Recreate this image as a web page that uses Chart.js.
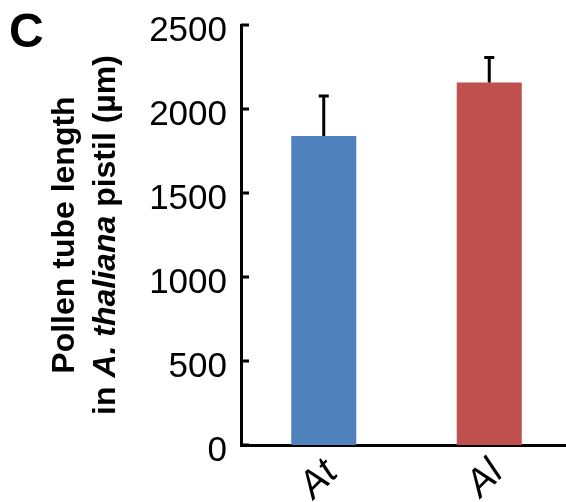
<!DOCTYPE html>
<html>
<head>
<meta charset="utf-8">
<script src="https://cdn.jsdelivr.net/npm/chart.js@4.4.0/dist/chart.umd.min.js"></script>
<style>
    html, body { margin: 0; padding: 0; overflow: hidden; background: #fff; }
    #wrap { position: relative; width: 566px; height: 502px; overflow: hidden; }
    canvas { position: absolute; left: 0; top: 0; }
</style>
</head>
<body>
<div id="wrap"><canvas id="chart" width="572" height="502"></canvas></div>
<script>
const species = ['At', 'Al'];
const tubeLength = [1840, 2157];
const tubeError = [237, 150];
const barColors = ['#4F81BD', '#C0504D'];
const yMax = 2500;
const yStep = 500;

const FONT = "'Liberation Sans', Arial, sans-serif";

// error bars (upper only) + inward tick marks on the y axis
const errorBars = {
    id: 'errorBars',
    afterDatasetsDraw(chart) {
        const ctx = chart.ctx;
        const x = chart.scales.x;
        const y = chart.scales.y;
        const meta = chart.getDatasetMeta(0);
        ctx.save();
        ctx.strokeStyle = '#000';
        ctx.lineWidth = 3;
        ctx.beginPath();
        meta.data.forEach((bar, i) => {
            const top = y.getPixelForValue(tubeLength[i] + tubeError[i]);
            ctx.moveTo(bar.x, bar.y);
            ctx.lineTo(bar.x, top);
            ctx.moveTo(bar.x - 5, top);
            ctx.lineTo(bar.x + 5, top);
        });
        y.ticks.forEach(t => {
            const py = y.getPixelForValue(t.value);
            ctx.moveTo(x.left, py);
            ctx.lineTo(x.left + 8, py);
        });
        ctx.stroke();
        ctx.restore();
    }
};

// panel letter and the two-line y title (with italic species name)
const labels = {
    id: 'labels',
    afterDraw(chart) {
        const ctx = chart.ctx;
        const y = chart.scales.y;
        const mid = (y.top + y.bottom) / 2;
        ctx.save();
        ctx.fillStyle = '#000';
        ctx.textBaseline = 'alphabetic';
        ctx.font = 'bold 48px ' + FONT;
        ctx.fillText('C', 9, 47);

        const normal = 'bold 32px ' + FONT;
        const italic = 'italic bold 32px ' + FONT;

        ctx.translate(74, mid);
        ctx.rotate(-Math.PI / 2);
        ctx.font = normal;
        ctx.textAlign = 'center';
        ctx.fillText('Pollen tube length', 0, 0);
        ctx.restore();

        const parts = [['in ', normal], ['A. thaliana', italic], [' pistil (µm)', normal]];
        ctx.save();
        ctx.fillStyle = '#000';
        ctx.translate(115, mid);
        ctx.rotate(-Math.PI / 2);
        let total = 0;
        parts.forEach(p => { ctx.font = p[1]; total += ctx.measureText(p[0]).width; });
        let pos = -total / 2;
        ctx.textAlign = 'left';
        parts.forEach(p => {
            ctx.font = p[1];
            ctx.fillText(p[0], pos, 0);
            pos += ctx.measureText(p[0]).width;
        });
        ctx.restore();
    }
};

new Chart(document.getElementById('chart'), {
    type: 'bar',
    data: {
        labels: species,
        datasets: [{
            data: tubeLength,
            backgroundColor: barColors,
            borderWidth: 0,
            barPercentage: 0.393,
            categoryPercentage: 1
        }]
    },
    options: {
        responsive: false,
        devicePixelRatio: 1,
        animation: false,
        layout: { padding: { top: 25, right: 0, bottom: 0, left: 0 } },
        plugins: {
            legend: { display: false },
            tooltip: { enabled: false },
            title: { display: false }
        },
        scales: {
            x: {
                offset: true,
                grid: { display: false, drawTicks: false },
                border: { color: '#000', width: 3 },
                ticks: {
                    color: '#000',
                    font: { family: FONT, size: 38, style: 'italic' },
                    minRotation: 45,
                    maxRotation: 45,
                    padding: 6,
                    labelOffset: 8
                },
                afterFit(s) {
                    s.height = 57;
                    s.paddingLeft = 0;
                    s.paddingRight = 0;
                }
            },
            y: {
                min: 0,
                max: yMax,
                grid: { display: false, drawTicks: false },
                border: { color: '#000', width: 3 },
                ticks: {
                    stepSize: yStep,
                    color: '#000',
                    font: { family: FONT, size: 35 },
                    padding: 14,
                    labelOffset: 6,
                    callback: v => String(v)
                },
                afterFit(s) {
                    s.width = 241;
                    s.paddingTop = 0;
                    s.paddingBottom = 0;
                }
            }
        }
    },
    plugins: [errorBars, labels]
});
</script>
</body>
</html>
